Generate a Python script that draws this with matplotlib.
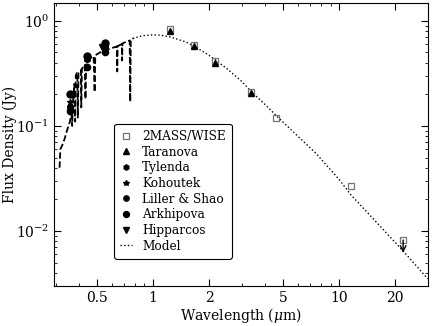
import numpy as np
import matplotlib
matplotlib.use('Agg')
import matplotlib.pyplot as plt
from matplotlib.ticker import FixedLocator, FixedFormatter, LogLocator, NullFormatter

plt.rcParams['font.family'] = 'DejaVu Serif'
plt.rcParams['mathtext.fontset'] = 'dejavuserif'

# 2MASS/WISE
wise_wl = [1.235, 1.662, 2.159, 3.35, 4.6, 11.6]
wise_fx = [0.84, 0.59, 0.415, 0.21, 0.119, 0.0268]
w4_wl = 22.1
w4_fx = 0.0082

# Taranova (JHKL)
tar_wl = [1.235, 1.662, 2.159, 3.35]
tar_fx = [0.80, 0.58, 0.40, 0.205]

# optical photometry (U, B, V)
tyl_wl = [0.36, 0.44, 0.55]
tyl_fx = [0.15, 0.43, 0.58]
koh_wl = [0.36, 0.44, 0.55]
koh_fx = [0.17, 0.44, 0.55]
lil_wl = [0.36, 0.44, 0.55]
lil_fx = [0.14, 0.36, 0.50]
ark_wl = [0.36, 0.44, 0.55]
ark_fx = [0.20, 0.46, 0.62]
hip_wl = [0.53]
hip_fx = [0.56]

# optical spectrum
spec_wl = [0.315, 0.318, 0.325, 0.335, 0.345, 0.352, 0.355, 0.358, 0.365, 0.368, 0.372,
           0.376, 0.378, 0.382, 0.385, 0.39, 0.392, 0.395, 0.398, 0.41, 0.412, 0.415,
           0.43, 0.434, 0.438, 0.46, 0.48, 0.486, 0.49, 0.52, 0.55, 0.6, 0.64, 0.643,
           0.646, 0.68, 0.683, 0.686, 0.75, 0.755, 0.76, 0.78]
spec_fx = [0.040, 0.060, 0.065, 0.075, 0.090, 0.10, 0.105, 0.11, 0.13, 0.10, 0.17,
           0.22, 0.25, 0.11, 0.30, 0.32, 0.32, 0.12, 0.32, 0.34, 0.15, 0.35,
           0.38, 0.18, 0.40, 0.44, 0.46, 0.21, 0.47, 0.50, 0.52, 0.55, 0.57, 0.33,
           0.575, 0.60, 0.42, 0.61, 0.65, 0.17, 0.655, 0.68]

# model SED
mod_wl = [0.78, 0.85, 0.9, 1.0, 1.1, 1.25, 1.5, 1.66, 2.0, 2.16, 2.5, 3.0, 3.35, 4.0,
          4.6, 6.0, 7.5, 10.0, 11.6, 15.0, 20.0, 22.0, 30.0]
mod_fx = [0.68, 0.71, 0.725, 0.735, 0.73, 0.70, 0.63, 0.575, 0.47, 0.425, 0.35, 0.265,
          0.215, 0.16, 0.125, 0.08, 0.055, 0.031, 0.022, 0.0135, 0.0078, 0.0065, 0.0035]

fig = plt.figure(figsize=(4.32, 3.26), dpi=100)
ax = fig.add_axes([0.125, 0.123, 0.866, 0.868])

ax.plot(spec_wl, spec_fx, 'k--', lw=1.3, dashes=(3.5, 1.5))
ax.plot(mod_wl, mod_fx, 'k:', lw=1.0, label='Model')

ax.plot(wise_wl + [w4_wl], wise_fx + [w4_fx], 's', ms=5, mfc='none', mec='0.45',
        mew=0.9, label='2MASS/WISE')
ax.annotate('', xy=(w4_wl, 0.0062), xytext=(w4_wl, w4_fx),
            arrowprops=dict(arrowstyle='->', color='k', lw=1, shrinkA=0, shrinkB=0))
ax.plot(tar_wl, tar_fx, '^', ms=4.5, color='k', label='Taranova')
ax.plot(tyl_wl, tyl_fx, 'h', ms=4.5, color='k', label='Tylenda')
ax.plot(koh_wl, koh_fx, '*', ms=4.5, color='k', label='Kohoutek')
ax.plot(lil_wl, lil_fx, 'o', ms=4.5, color='k', label='Liller & Shao')
ax.plot(ark_wl, ark_fx, 'o', ms=5, color='k', label='Arkhipova')
ax.plot(hip_wl, hip_fx, 'v', ms=4.5, color='k', label='Hipparcos')

ax.set_xscale('log')
ax.set_yscale('log')
ax.set_xlim(0.294, 30.1)
ax.set_ylim(0.003, 1.48)

ax.xaxis.set_major_locator(FixedLocator([0.5, 1, 2, 5, 10, 20]))
ax.xaxis.set_major_formatter(FixedFormatter(['0.5', '1', '2', '5', '10', '20']))
ax.xaxis.set_minor_locator(LogLocator(base=10, subs=np.arange(1, 10)))
ax.xaxis.set_minor_formatter(NullFormatter())
ax.tick_params(which='both', direction='in', top=True, right=True, labelsize=10)
ax.tick_params(which='major', length=5)
ax.tick_params(which='minor', length=2.5)

ax.set_xlabel(r'Wavelength ($\mu$m)', fontsize=10, labelpad=1)
ax.set_ylabel('Flux Density (Jy)', fontsize=10)
ax.yaxis.set_label_coords(-0.1, 0.5)

h, l = ax.get_legend_handles_labels()
order = ['2MASS/WISE', 'Taranova', 'Tylenda', 'Kohoutek', 'Liller & Shao',
         'Arkhipova', 'Hipparcos', 'Model']
hd = dict(zip(l, h))
leg = ax.legend([hd[k] for k in order], order, loc='lower left',
                bbox_to_anchor=(0.145, 0.075), fontsize=8.7, handlelength=1.0,
                labelspacing=0.22, borderpad=0.5, handletextpad=0.8,
                markerscale=0.85, fancybox=True, framealpha=1, edgecolor='k',
                numpoints=1)
leg.get_frame().set_linewidth(0.8)

fig.savefig('out.png', dpi=100)
